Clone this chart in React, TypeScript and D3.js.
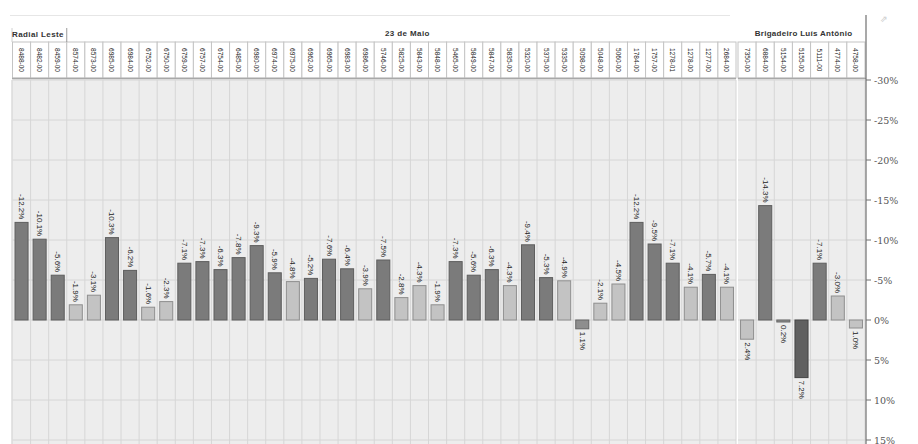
import React from "react";
import * as d3 from "d3";

const groupNames = ["Radial Leste", "23 de Maio", "Brigadeiro Luís Antônio"];

const stations1 = ["8488-00", "8482-00", "8459-00"];
const stations2 = [
  "8574-00", "8573-00", "6985-00", "6984-00", "6752-00", "6750-00", "6759-00", "6757-00",
  "6754-00", "6485-00", "6980-00", "6974-00", "6975-00", "6962-00", "6965-00", "6983-00",
  "6986-00", "5746-00", "5825-00", "5843-00", "5848-00", "5465-00", "5849-00", "5847-00",
  "5835-00", "5320-00", "5375-00", "5335-00", "5098-00", "5048-00", "5060-00", "1784-00",
  "1757-00", "1278-01", "1278-00", "1277-00", "2684-00",
];
const stations3 = ["7350-00", "6884-00", "5154-00", "5155-00", "5111-00", "4774-00", "4758-00"];

const values1 = [-12.2, -10.1, -5.6];
const values2 = [
  -1.9, -3.1, -10.3, -6.2, -1.6, -2.3, -7.1, -7.3, -6.3, -7.8, -9.3, -5.9, -4.8, -5.2, -7.6,
  -6.4, -3.9, -7.5, -2.8, -4.3, -1.9, -7.3, -5.6, -6.3, -4.3, -9.4, -5.3, -4.9, 1.1, -2.1,
  -4.5, -12.2, -9.5, -7.1, -4.1, -5.7, -4.1,
];
const values3 = [2.4, -14.3, 0.2, 7.2, -7.1, -3.0, 1.0];

// tone of each bar (as shown in the picture)
const tones1 = ["dark", "dark", "dark"];
const tones2 = [
  "light", "light", "dark", "dark", "light", "light", "dark", "dark", "dark", "dark", "dark",
  "dark", "light", "dark", "dark", "dark", "light", "dark", "light", "light", "light", "dark",
  "dark", "dark", "light", "dark", "dark", "light", "mid", "light", "light", "dark", "dark",
  "dark", "light", "dark", "light",
];
const tones3 = ["light", "dark", "mid", "darkest", "dark", "light", "light"];

const yTicks = [-30, -25, -20, -15, -10, -5, 0, 5, 10, 15];

const toneFill: Record<string, string> = {
  dark: "#7b7b7b",
  light: "#c3c3c3",
  mid: "#8e8e8e",
  darkest: "#606060",
};
const toneStroke: Record<string, string> = {
  dark: "#5e5e5e",
  light: "#8e8e8e",
  mid: "#666666",
  darkest: "#444444",
};

const W = 918;
const H = 444;
const PLOT_TOP = 80;
const PLOT_BOTTOM = 444;
const HEADER_TOP = 42;
const TITLE_TOP = 28;
const AXIS_X = 866;

export default function App() {
  const y = d3.scaleLinear().domain([-30, 15]).range([80, 440]);

  const leftStations = [...stations1, ...stations2];
  const leftValues = [...values1, ...values2];
  const leftTones = [...tones1, ...tones2];

  const xL = d3.scaleBand<string>().domain(leftStations.map((s, i) => i + "")).range([12.5, 736]).padding(0);
  const xR = d3.scaleBand<string>().domain(stations3.map((s, i) => i + "")).range([738, 865]).padding(0);

  type Col = { name: string; v: number; tone: string; x0: number; w: number };
  const cols: Col[] = [];
  leftStations.forEach((s, i) => {
    cols.push({ name: s, v: leftValues[i], tone: leftTones[i], x0: xL(i + "")!, w: xL.bandwidth() });
  });
  stations3.forEach((s, i) => {
    cols.push({ name: s, v: values3[i], tone: tones3[i], x0: xR(i + "")!, w: xR.bandwidth() });
  });

  const g1End = xL(String(stations1.length - 1))! + xL.bandwidth();
  const g2Start = g1End;
  const g2End = 736;
  const g3Start = 738;
  const g3End = 865;

  const fmt = (v: number) => `${v.toFixed(1)}%`;
  const labelFont = "'Liberation Sans', Arial, sans-serif";

  return (
    <svg
      width={W}
      height={H}
      style={{ position: "absolute", left: 0, top: 0, background: "#ffffff" }}
      fontFamily={labelFont}
    >
      {/* faint top line */}
      <line x1={10} x2={730} y1={15.5} y2={15.5} stroke="#e6e6e6" strokeWidth={1} />

      {/* plot backgrounds */}
      <rect x={12.5} y={PLOT_TOP} width={g2End - 12.5} height={PLOT_BOTTOM - PLOT_TOP} fill="#ededed" />
      <rect x={g3Start} y={PLOT_TOP} width={g3End - g3Start} height={PLOT_BOTTOM - PLOT_TOP} fill="#ededed" />
      <line x1={12} x2={12} y1={PLOT_TOP} y2={PLOT_BOTTOM} stroke="#c8c8c8" />

      {/* horizontal grid */}
      {yTicks.map((t) => (
        <g key={"hg" + t}>
          <line x1={12.5} x2={g2End} y1={y(t)} y2={y(t)} stroke="#d6d6d6" strokeWidth={1} />
          <line x1={g3Start} x2={g3End} y1={y(t)} y2={y(t)} stroke="#d6d6d6" strokeWidth={1} />
        </g>
      ))}

      {/* vertical grid */}
      {cols.map((c, i) => (
        <line key={"vg" + i} x1={c.x0 + c.w} x2={c.x0 + c.w} y1={PLOT_TOP} y2={PLOT_BOTTOM} stroke="#d6d6d6" strokeWidth={1} />
      ))}

      {/* header cells */}
      {cols.map((c, i) => (
        <g key={"hc" + i}>
          <rect x={c.x0} y={HEADER_TOP} width={c.w} height={PLOT_TOP - 2 - HEADER_TOP} fill="#ffffff" stroke="#c4c4c4" strokeWidth={1} />
          <text
            transform={`translate(${c.x0 + c.w / 2},${(HEADER_TOP + PLOT_TOP - 2) / 2}) rotate(90)`}
            textAnchor="middle"
            dominantBaseline="central"
            fontSize={6.5}
            fill="#222"
          >
            {c.name}
          </text>
        </g>
      ))}
      {/* header bottom line */}
      <line x1={12} x2={g2End} y1={PLOT_TOP - 1.5} y2={PLOT_TOP - 1.5} stroke="#a8a8a8" strokeWidth={1.5} />
      <line x1={g3Start} x2={AXIS_X} y1={PLOT_TOP - 1.5} y2={PLOT_TOP - 1.5} stroke="#a8a8a8" strokeWidth={1.5} />

      {/* group titles */}
      <line x1={g1End} x2={g1End} y1={TITLE_TOP} y2={HEADER_TOP} stroke="#9a9a9a" />
      <line x1={12} x2={12} y1={TITLE_TOP} y2={HEADER_TOP} stroke="#d0d0d0" />
      <text x={12} y={37} fontSize={8} fontWeight="bold" fill="#333" letterSpacing={0.4}>
        {groupNames[0]}
      </text>
      <text x={(g2Start + g2End) / 2 + 6} y={36} fontSize={8} fontWeight="bold" fill="#333" textAnchor="middle" letterSpacing={0.4}>
        {groupNames[1]}
      </text>
      <text x={(g3Start + g3End) / 2 + 2} y={36} fontSize={8} fontWeight="bold" fill="#333" textAnchor="middle" letterSpacing={0.3}>
        {groupNames[2]}
      </text>

      {/* bars */}
      {cols.map((c, i) => {
        const bw = c.w * 0.72;
        const bx = c.x0 + (c.w - bw) / 2;
        const top = y(Math.min(c.v, 0));
        const bot = y(Math.max(c.v, 0));
        const h = Math.max(bot - top, 2);
        return (
          <rect
            key={"b" + i}
            x={bx}
            y={c.v < 0 ? top : y(0)}
            width={bw}
            height={h}
            fill={toneFill[c.tone]}
            stroke={toneStroke[c.tone]}
            strokeWidth={1}
          />
        );
      })}

      {/* value labels */}
      {cols.map((c, i) => {
        const cx = c.x0 + c.w / 2;
        const neg = c.v < 0;
        const ay = neg ? y(c.v) - 3 : y(0) + Math.max(y(c.v) - y(0), 2) + 3;
        return (
          <text
            key={"l" + i}
            transform={`translate(${cx},${ay}) rotate(90)`}
            textAnchor={neg ? "end" : "start"}
            dominantBaseline="central"
            fontSize={8}
            fill="#222"
          >
            {fmt(c.v)}
          </text>
        );
      })}

      {/* right axis */}
      <line x1={AXIS_X} x2={AXIS_X} y1={15} y2={H} stroke="#707070" strokeWidth={1.2} />
      {yTicks.map((t) => (
        <g key={"yt" + t}>
          <line x1={AXIS_X} x2={AXIS_X + 5} y1={y(t)} y2={y(t)} stroke="#707070" />
          <text
            x={AXIS_X + 8}
            y={y(t)}
            dominantBaseline="central"
            fontSize={9.5}
            fill="#555"
            fontFamily="'DejaVu Serif', serif"
          >
            {`${t}%`}
          </text>
        </g>
      ))}

      {/* faint icon */}
      <text x={880} y={22} fontSize={9} fill="#cccccc">⇗</text>
    </svg>
  );
}
